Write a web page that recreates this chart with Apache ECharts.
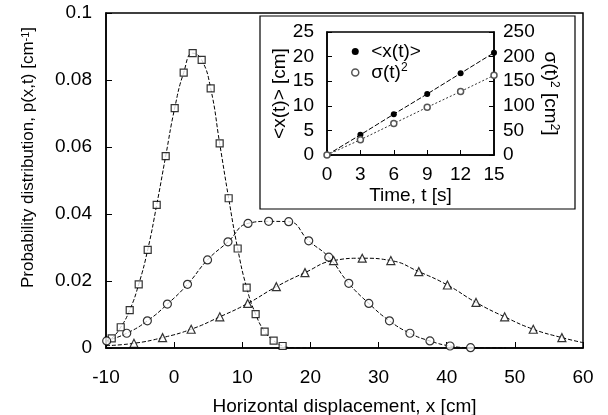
<!DOCTYPE html>
<html>
<head>
<meta charset="utf-8">
<script src="https://cdn.jsdelivr.net/npm/echarts@6/dist/echarts.min.js"></script>
<style>
html,body{margin:0;padding:0;background:#fff;}
#c{width:608px;height:415px;}
</style>
</head>
<body>
<div id="c"></div>
<script>
// ---- main plot data ----
const squareX = [-9.16, -7.84, -6.52, -5.2, -3.88, -2.56, -1.24, 0.08, 1.4, 2.72, 4.04, 5.36, 6.68, 8.0, 9.32, 10.64, 11.96, 13.28, 14.6, 15.92];
const squareP = [0.0029, 0.0062, 0.0113, 0.019, 0.0293, 0.0427, 0.0573, 0.0716, 0.0822, 0.0880, 0.0860, 0.0775, 0.0611, 0.0447, 0.0297, 0.018, 0.0101, 0.0049, 0.0022, 0.0006];

const circleX = [-9.9, -6.96, -3.93, -0.99, 1.96, 4.9, 7.9, 10.84, 13.87, 16.81, 19.75, 22.69, 25.63, 28.57, 31.6, 34.6, 37.54, 40.49, 43.5];
const circleP = [0.0021, 0.0044, 0.0081, 0.0131, 0.019, 0.0263, 0.0317, 0.0372, 0.0378, 0.0377, 0.032, 0.0271, 0.0193, 0.0133, 0.0081, 0.0044, 0.0021, 0.0006, 0.0001];

const triX = [-5.9, -1.7, 2.5, 6.7, 10.8, 15.0, 19.2, 23.4, 27.6, 31.8, 35.9, 40.1, 44.3, 48.5, 52.7, 56.9];
const triP = [0.0014, 0.0031, 0.0056, 0.0093, 0.0133, 0.0183, 0.0225, 0.0261, 0.0268, 0.0261, 0.0228, 0.0188, 0.0136, 0.0093, 0.0056, 0.0031];

const sqCurveHeadX = [-10], sqCurveHeadP = [0.0020];
const sqCurveTailX = [17.5, 20], sqCurveTailP = [0.0001, 0];
const ciCurveHeadX = [-10], ciCurveHeadP = [0.0020];
const ciCurveTailX = [46, 48.7], ciCurveTailP = [0.00003, 0];
const trCurveHeadX = [-10], trCurveHeadP = [0.0007];
const trCurveTailX = [60], trCurveTailP = [0.0016];

// ---- inset data ----
const timeT = [0, 3, 6, 9, 12, 15];
const meanX = [0, 4.1, 8.3, 12.4, 16.6, 20.8];
const sigma2 = [0, 31, 64, 97, 129, 162];

const xTicksMain = {min: -10, max: 60, interval: 10};
const yTicksMain = {min: 0, max: 0.1, interval: 0.02};

function pairs(xs, ys) { return xs.map((x, i) => [x, ys[i]]); }
function curve(hx, hp, xs, ys, tx, tp) {
  return pairs(hx.concat(xs, tx), hp.concat(ys, tp));
}

const FONT = 'Liberation Sans';
const chart = echarts.init(document.getElementById('c'), null, {renderer: 'canvas'});

const markerStyle = {color: '#fff', borderColor: '#000', borderWidth: 1.2};
const dashLine = {color: '#000', width: 1, type: [4, 2]};
const axLine = {show: true, onZero: false, lineStyle: {color: '#000', width: 1.5}};

const option = {
  backgroundColor: '#fff',
  animation: false,
  textStyle: {fontFamily: FONT},
  grid: [
    {left: 106, top: 13, width: 477, height: 335, containLabel: false, outerBoundsMode: 'none', show: true, borderColor: '#000', borderWidth: 1.5, backgroundColor: 'transparent', z: 0},
    {left: 327, top: 32, width: 167, height: 123, containLabel: false, outerBoundsMode: 'none', show: true, borderColor: '#000', borderWidth: 1.5, backgroundColor: 'transparent', z: 20}
  ],
  graphic: [
    {type: 'rect', shape: {x: 260, y: 16, width: 315, height: 193}, style: {fill: '#fff', stroke: '#000', lineWidth: 1.2}, z: 10}
  ],
  xAxis: [
    {
      type: 'value', gridIndex: 0, min: xTicksMain.min, max: xTicksMain.max, interval: xTicksMain.interval,
      axisLine: axLine,
      axisTick: {show: true, inside: true, length: 6, lineStyle: {color: '#000', width: 1}},
      axisLabel: {color: '#000', fontSize: 19, margin: 20, fontFamily: FONT},
      splitLine: {show: false},
      name: 'Horizontal displacement, x [cm]', nameLocation: 'middle', nameGap: 49,
      nameTextStyle: {color: '#000', fontSize: 19, fontFamily: FONT}
    },
    {
      type: 'value', gridIndex: 1, min: 0, max: 15, interval: 3, z: 20,
      axisLine: axLine,
      axisTick: {show: true, inside: true, length: 5, lineStyle: {color: '#000', width: 1}},
      axisLabel: {color: '#000', fontSize: 19, margin: 10, fontFamily: FONT},
      splitLine: {show: false},
      name: 'Time, t [s]', nameLocation: 'middle', nameGap: 31,
      nameTextStyle: {color: '#000', fontSize: 19, fontFamily: FONT}
    }
  ],
  yAxis: [
    {
      type: 'value', gridIndex: 0, min: yTicksMain.min, max: yTicksMain.max, interval: yTicksMain.interval,
      axisLine: axLine,
      axisTick: {show: true, inside: true, length: 6, lineStyle: {color: '#000', width: 1}},
      axisLabel: {color: '#000', fontSize: 19, margin: 14, fontFamily: FONT},
      splitLine: {show: false},
      name: '{a|Probability distribution, p(x,t) [cm}{s|-1}{a|]}', nameLocation: 'middle', nameGap: 69, nameRotate: 90,
      nameTextStyle: {color: '#000', fontFamily: FONT, padding: [0, 0, 0, 46],
        rich: {a: {fontSize: 17, fontFamily: FONT, color: '#000'}, s: {fontSize: 11, fontFamily: FONT, color: '#000', verticalAlign: 'top'}}}
    },
    {
      type: 'value', gridIndex: 1, min: 0, max: 25, interval: 5, z: 20,
      axisLine: axLine,
      axisTick: {show: true, inside: true, length: 5, lineStyle: {color: '#000', width: 1}},
      axisLabel: {color: '#000', fontSize: 19, margin: 13, fontFamily: FONT},
      splitLine: {show: false},
      name: '<x(t)> [cm]', nameLocation: 'middle', nameGap: 35, nameRotate: 90,
      nameTextStyle: {color: '#000', fontSize: 19, fontFamily: FONT}
    },
    {
      type: 'value', gridIndex: 1, position: 'right', min: 0, max: 250, interval: 50, z: 20,
      axisLine: axLine,
      axisTick: {show: true, inside: true, length: 5, lineStyle: {color: '#000', width: 1}},
      axisLabel: {color: '#000', fontSize: 19, margin: 9, fontFamily: FONT},
      splitLine: {show: false},
      name: '{a|σ(t)}{s|2}{a| [cm}{s|2}{a|]}', nameLocation: 'middle', nameGap: 47, nameRotate: -90,
      nameTextStyle: {color: '#000', fontFamily: FONT,
        rich: {a: {fontSize: 19, fontFamily: FONT, color: '#000'}, s: {fontSize: 12, fontFamily: FONT, color: '#000', verticalAlign: 'top'}}}
    }
  ],
  legend: {
    show: true, orient: 'vertical', left: 346, top: 36, itemGap: 0, itemWidth: 10, itemHeight: 7, z: 30,
    data: [
      {name: '<x(t)>', icon: 'circle', itemStyle: {color: '#000', borderWidth: 0}},
      {name: 'σ(t)²', icon: 'circle', itemStyle: {color: '#fff', borderColor: '#555', borderWidth: 1.5}}
    ],
    formatter: function (name) { return name === 'σ(t)²' ? '{a|σ(t)}{s|2}' : '{a|' + name + '}'; },
    textStyle: {color: '#000', fontFamily: FONT, padding: [0, 0, 0, 6], lineHeight: 21,
      rich: {a: {fontSize: 19, fontFamily: FONT, color: '#000', lineHeight: 21}, s: {fontSize: 12, fontFamily: FONT, color: '#000', verticalAlign: 'top'}}}
  },
  series: [
    {type: 'line', xAxisIndex: 0, yAxisIndex: 0, data: curve(sqCurveHeadX, sqCurveHeadP, squareX, squareP, sqCurveTailX, sqCurveTailP), smooth: 0.5, showSymbol: false, lineStyle: dashLine, z: 2, silent: true},
    {type: 'line', xAxisIndex: 0, yAxisIndex: 0, data: curve(ciCurveHeadX, ciCurveHeadP, circleX, circleP, ciCurveTailX, ciCurveTailP), smooth: 0.5, showSymbol: false, lineStyle: dashLine, z: 2, silent: true},
    {type: 'line', xAxisIndex: 0, yAxisIndex: 0, data: curve(trCurveHeadX, trCurveHeadP, triX, triP, trCurveTailX, trCurveTailP), smooth: 0.5, showSymbol: false, lineStyle: dashLine, z: 2, silent: true},
    {type: 'scatter', name: 'squares', xAxisIndex: 0, yAxisIndex: 0, data: pairs(squareX, squareP), symbol: 'rect', symbolSize: 7, itemStyle: markerStyle, z: 3},
    {type: 'scatter', name: 'circles', xAxisIndex: 0, yAxisIndex: 0, data: pairs(circleX, circleP), symbol: 'circle', symbolSize: 8, itemStyle: markerStyle, z: 3},
    {type: 'scatter', name: 'triangles', xAxisIndex: 0, yAxisIndex: 0, data: pairs(triX, triP), symbol: 'triangle', symbolSize: 8, itemStyle: markerStyle, z: 3},
    {type: 'line', name: '<x(t)>', xAxisIndex: 1, yAxisIndex: 1, data: pairs(timeT, meanX), symbol: 'circle', symbolSize: 6, showAllSymbol: true,
      itemStyle: {color: '#000'}, lineStyle: {color: '#000', width: 1, type: [5, 2]}, z: 25},
    {type: 'line', name: 'σ(t)²', xAxisIndex: 1, yAxisIndex: 2, data: pairs(timeT, sigma2), symbol: 'circle', symbolSize: 6, showAllSymbol: true,
      itemStyle: {color: '#fff', borderColor: '#555', borderWidth: 1.5}, lineStyle: {color: '#333', width: 1, type: [2, 2]}, z: 25}
  ]
};
chart.setOption(option);
</script>
</body>
</html>
